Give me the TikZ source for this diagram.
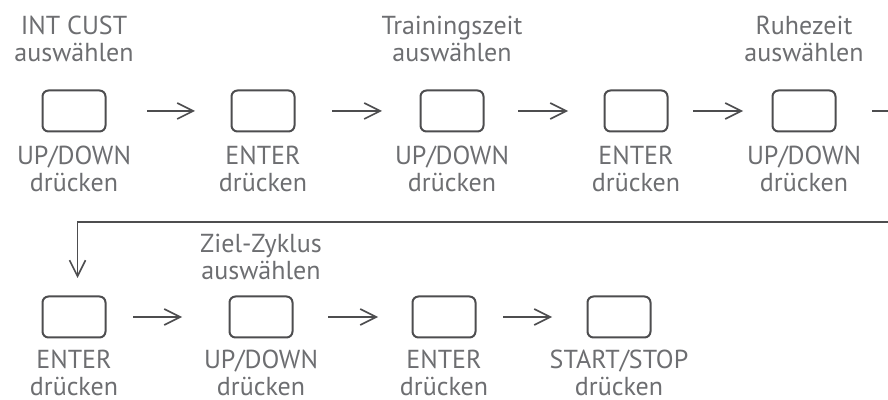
\documentclass[tikz,border=0pt]{standalone}
\usepackage{fontspec}
\newfontfamily\labelfont{PT Sans}
\usetikzlibrary{arrows.meta, positioning}
\definecolor{keygray}{HTML}{4D4D4F}
\definecolor{labelgray}{HTML}{6D6E71}

\begin{document}
\begin{tikzpicture}[
    node distance=1cm,
    key_block/.style={
            rectangle,
            rounded corners=3pt,
            draw=keygray,
            line width=1pt,
            minimum width=31.5pt,
            minimum height=20.5pt,
            inner sep=0pt,
            outer sep=0pt
        },
    label_block/.style={
            text=labelgray,
            align=center,
            inner sep=0pt,
            font=\labelfont\fontsize{13}{13.5}\selectfont
        },
    arrow/.style={-{Straight Barb[length=8pt, width=8pt]}, draw=keygray, line width=0.8pt},
    ]

    \clip (0,0) rectangle (444pt,-200pt);

    % --- Top row ---
    \node (updown_mode) [key_block] at (37pt,-55.5pt) {};
    \node (enter_mode) [key_block, right=63pt of updown_mode] {};
    \node (updown_time) [key_block, right=63pt of enter_mode] {};
    \node (enter_time) [key_block, right=60.5pt of updown_time] {};
    \node (updown_rest) [key_block, right=52.5pt of enter_time] {};

    % --- Bottom row ---
    \node (enter_rest) [key_block, below=82.5pt of updown_mode] {};
    \node (updown_cycle) [key_block, right=62pt of enter_rest] {};
    \node (enter_cycle) [key_block, right=60pt of updown_cycle] {};
    \node (start_stop) [key_block, right=56pt of enter_cycle] {};

    % --- Labels ---
    \node (int_cust_txt) [label_block, above=14pt of updown_mode] {INT CUST\\auswählen};
    \node (time_txt) [label_block, above=14pt of updown_time] {Trainingszeit\\auswählen};
    \node (rest_txt) [label_block, above=14pt of updown_rest] {Ruhezeit\\auswählen};
    \node (cycle_txt) [label_block, above=8pt of updown_cycle] {Ziel-Zyklus\\auswählen};

    \node (updown_mode_txt) [label_block, below=7pt of updown_mode] {UP/DOWN\\drücken};
    \node (enter_mode_txt) [label_block, below=7pt of enter_mode] {ENTER\\drücken};
    \node (updown_time_txt) [label_block, below=7pt of updown_time] {UP/DOWN\\drücken};
    \node (enter_time_txt) [label_block, below=7pt of enter_time] {ENTER\\drücken};
    \node (updown_rest_txt) [label_block, below=7pt of updown_rest] {UP/DOWN\\drücken};
    \node (enter_rest_txt) [label_block, below=6pt of enter_rest] {ENTER\\drücken};
    \node (updown_cycle_txt) [label_block, below=6pt of updown_cycle] {UP/DOWN\\drücken};
    \node (enter_cycle_txt) [label_block, below=6pt of enter_cycle] {ENTER\\drücken};
    \node (start_stop_txt) [label_block, below=6pt of start_stop] {START/STOP\\drücken};

    % --- Arrows ---
    \draw[arrow, shorten <=20.75pt, shorten >=18.25pt] (updown_mode) -- (enter_mode);
    \draw[arrow, shorten <=18.75pt, shorten >=19.25pt] (enter_mode) -- (updown_time);
    \draw[arrow, shorten <=17.25pt, shorten >=18.25pt] (updown_time) -- (enter_time);
    \draw[arrow, shorten <=12.75pt, shorten >=14.75pt] (enter_time) -- (updown_rest);

    \coordinate[right=30pt of updown_rest] (loop_top);
    \coordinate[below=55.5pt of loop_top] (loop_bend);
    \draw[arrow, shorten <=18.25pt, shorten >=9.25pt] (updown_rest) -- (loop_top) -- (loop_bend) -| ([xshift=1.75pt]enter_rest.north);

    \draw[arrow, shorten <=13.75pt, shorten >=23.75pt] (enter_rest) -- (updown_cycle);
    \draw[arrow, shorten <=17.75pt, shorten >=17.25pt] (updown_cycle) -- (enter_cycle);
    \draw[arrow, shorten <=13.75pt, shorten >=17.75pt] (enter_cycle) -- (start_stop);

\end{tikzpicture}
\end{document}
